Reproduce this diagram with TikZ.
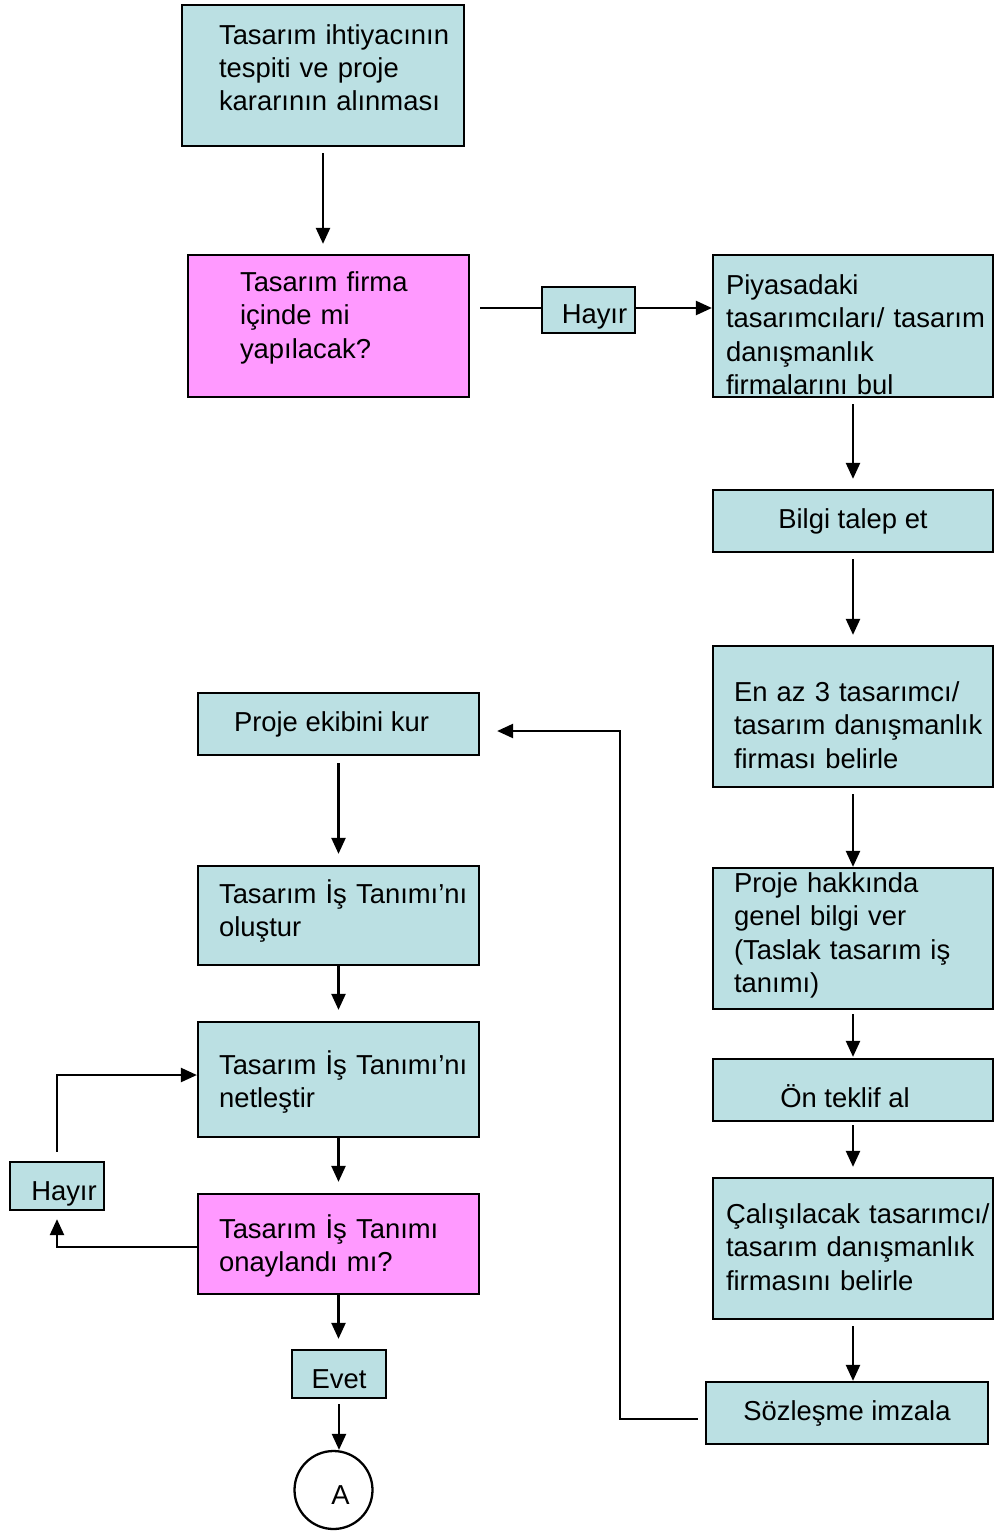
\documentclass[tikz,border=0pt]{standalone}
\usepackage{fontspec}
\setmainfont{Liberation Sans}
\usetikzlibrary{arrows.meta}
\definecolor{kutumavi}{RGB}{187,224,227}
\definecolor{kutupembe}{RGB}{255,153,255}

\begin{document}
\begin{tikzpicture}[x=0.02cm,y=-0.02cm,
  every node/.style={font=\fontsize{15.6}{18.8}\selectfont,execute at begin node={\hyphenpenalty=10000\exhyphenpenalty=10000}},
  kutu/.style={draw,fill=kutumavi,line width=1.3pt,inner ysep=0pt},
  soru/.style={kutu,fill=kutupembe},
  ok/.style={line width=1.3pt,-{Triangle[length=0.32cm,width=0.28cm]}}]
\useasboundingbox (0,0) rectangle (994,1531);

% sol ust
\node[kutu,minimum height=2.82cm,text width=4.16cm,inner xsep=0.74cm,align=left,text depth=1.62cm] (b1) at (323,75.5) {Tasarım~ihtiyacının\\tespiti ve proje\\kararının~alınması};
\node[soru,minimum height=2.84cm,text width=3.54cm,inner xsep=1.04cm,align=left,text depth=1.76cm] (b2) at (328.5,326) {Tasarım firma\\içinde mi\\yapılacak?};
\node[kutu,minimum width=1.86cm,minimum height=0.92cm,text height=0.56cm,text depth=0pt] (hayir1) at (588.5,310) {\hspace*{0.24cm}Hayır};

% sag sutun
\node[kutu,minimum height=2.84cm,text width=5.08cm,inner xsep=0.26cm,align=left,text depth=1.64cm] (b3) at (853,326) {Piyasadaki\\tasarımcıları/~tasarım\\danışmanlık\\firmalarını bul};
\node[kutu,minimum width=5.6cm,minimum height=1.24cm] (b4) at (853,521) {Bilgi talep et};
\node[kutu,minimum height=2.82cm,text width=4.76cm,inner xsep=0.42cm,align=left,text depth=0.98cm] (b5) at (853,716.5) {En az 3 tasarımcı/\\tasarım~danışmanlık\\firması belirle};
\node[kutu,minimum height=2.82cm,text width=4.76cm,inner xsep=0.42cm,align=left,text depth=2.22cm] (b6) at (853,938.5) {Proje hakkında\\genel bilgi ver\\(Taslak tasarım iş\\tanımı)};
\node[kutu,minimum width=5.6cm,minimum height=1.24cm,text height=0.7cm,text depth=0pt] (b7) at (853,1090) {Ön teklif al\hspace*{0.32cm}};
\node[kutu,minimum height=2.82cm,text width=5.08cm,inner xsep=0.26cm,align=left,text depth=1.38cm] (b8) at (853,1248.5) {Çalışılacak~tasarımcı/\\tasarım~danışmanlık\\firmasını belirle};
\node[kutu,minimum width=5.64cm,minimum height=1.24cm] (b9) at (847,1413) {Sözleşme imzala};

% sol alt
\node[kutu,minimum width=5.62cm,minimum height=1.24cm] (b10) at (338.5,724) {Proje ekibini kur\hspace*{0.28cm}};
\node[kutu,minimum height=1.98cm,text width=4.78cm,inner xsep=0.42cm,align=left,text depth=0.94cm] (b11) at (338.5,915.5) {Tasarım~İş~Tanımı’nı\\oluştur};
\node[kutu,minimum height=2.3cm,text width=4.78cm,inner xsep=0.42cm,align=left,text depth=0.66cm] (b12) at (338.5,1079.5) {Tasarım~İş~Tanımı’nı\\netleştir};
\node[soru,minimum height=2cm,text width=4.78cm,inner xsep=0.42cm,align=left,text depth=0.68cm] (b13) at (338.5,1244) {Tasarım~İş~Tanımı\\onaylandı mı?};
\node[kutu,minimum width=1.88cm,minimum height=0.96cm,text height=0.56cm,text depth=0pt] (evet) at (339,1374) {Evet};
\node[draw,circle,line width=1.3pt,minimum size=1.56cm,inner sep=0pt,text height=0.56cm,text depth=0pt] (A) at (333.5,1490) {\hspace*{0.28cm}A};
\node[kutu,minimum width=1.88cm,minimum height=0.96cm,text height=0.56cm,text depth=0pt] (hayir2) at (57,1186) {\hspace*{0.28cm}Hayır};

\draw[ok,shorten <=0.12cm,shorten >=0.2cm] (b1.south) -- (b1.south |- b2.north);
\draw[line width=1.3pt,shorten <=0.2cm] ([yshift=0.04cm]hayir1.west -| b2.east) -- ([yshift=0.04cm]hayir1.west);
\draw[ok] ([yshift=0.04cm]hayir1.east) -- ([yshift=0.04cm]hayir1.east -| b3.west);

\foreach \a/\b/\s/\e in {b3/b4/6/10,b4/b5/6/10,b5/b6/6/0,b6/b7/4/1,b7/b8/3/10,b8/b9/6/0}
  \draw[ok,shorten <=\s*0.02cm,shorten >=\e*0.02cm] (\a.south) -- (\a.south |- \b.north);

\coordinate (kose) at (620,731);
\draw[ok,shorten <=0.14cm,shorten >=0.34cm] ([yshift=-0.12cm]b9.west) -| (kose) -- (kose -| b10.east);

\foreach \a/\b/\s/\e in {b10/b11/7/11,b11/b12/0/11,b12/b13/0/11,b13/evet/0/10,evet/A/5/0}
  \draw[ok,shorten <=\s*0.02cm,shorten >=\e*0.02cm] (\a.south) -- (\a.south |- \b.north);

\draw[ok,shorten >=0.16cm] ([yshift=-0.06cm]b13.west) -| (hayir2.south);
\draw[ok,shorten <=0.18cm] (hayir2.north) |- ([yshift=0.09cm]b12.west);
\end{tikzpicture}
\end{document}
